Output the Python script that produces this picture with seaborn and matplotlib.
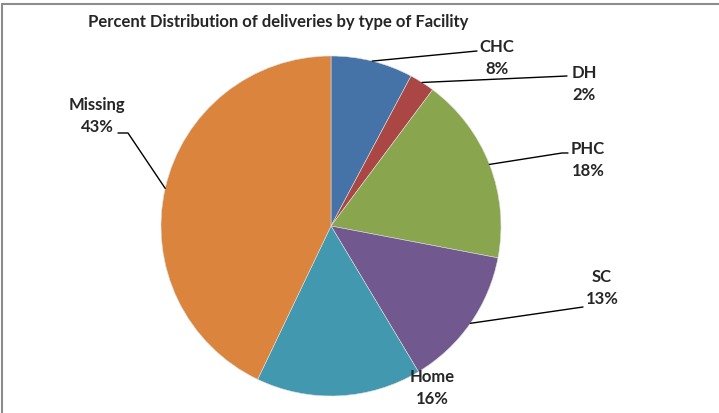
import numpy as np
import matplotlib
matplotlib.use("Agg")
import matplotlib.pyplot as plt
import seaborn as sns

# slice values (percent)
categories = ["CHC", "DH", "PHC", "SC", "Home", "Missing"]
values = [7.8, 2.4, 17.8, 13.4, 15.7, 42.9]
colors = ["#4572A7", "#AA4643", "#89A54E", "#71588F", "#4198AF", "#DB843D"]

W, H = 719, 413
CX, CY, R = 331, 226, 170  # pie centre / radius in pixels

# label layout in pixels: text centre, elbow point (None = no leader line)
label_pos = {
    "CHC": ((497, 58), [(477, 51)]),
    "DH": ((584, 84), [(567, 76)]),
    "PHC": ((588, 160), [(562, 153), (568, 153)]),
    "SC": ((602, 288), [(583, 307)]),
    "Home": ((432, 388), None),
    "Missing": ((97, 116), [(128, 133), (118, 133)]),
}

sns.set_theme(style="white")
plt.rcParams["font.family"] = ["Lato", "DejaVu Sans"]

fig = plt.figure(figsize=(W / 100, H / 100), dpi=100)
ax = fig.add_axes([(CX - R) / W, (H - CY - R) / H, 2 * R / W, 2 * R / H])

wedges, _ = ax.pie(values, colors=colors, startangle=90, counterclock=False,
                   radius=1, wedgeprops=dict(linewidth=0.4, edgecolor="#dddddd"))
ax.set_xlim(-1, 1)
ax.set_ylim(-1, 1)
ax.set_axis_off()


def to_data(px, py):
    return (px - CX) / R, (CY - py) / R


total = sum(values)
for w, name, v in zip(wedges, categories, values):
    (tx, ty), elbow = label_pos[name]
    x, y = to_data(tx, ty)
    ax.text(x, y, f"{name}\n{v / total * 100:.0f}%", ha="center", va="center",
            fontsize=12, fontweight="bold", linespacing=1.45, clip_on=False)
    if elbow:
        ang = np.deg2rad((w.theta1 + w.theta2) / 2)
        pts = [(np.cos(ang), np.sin(ang))] + [to_data(*p) for p in elbow]
        xs, ys = zip(*pts)
        ax.plot(xs, ys, color="black", linewidth=1, clip_on=False)

fig.text(88 / W, 1 - 22 / H, "Percent Distribution of deliveries by type of Facility",
         ha="left", va="center", fontsize=12, fontweight="bold")

# chart-area border (only top and left visible in the reference crop)
fig.add_artist(plt.Line2D([1.5 / W, 1], [1 - 3.5 / H, 1 - 3.5 / H],
                          transform=fig.transFigure, color="#8c8c8c", linewidth=1.5))
fig.add_artist(plt.Line2D([1.5 / W, 1.5 / W], [0, 1 - 3.5 / H],
                          transform=fig.transFigure, color="#8c8c8c", linewidth=1.5))

fig.savefig("out.png", dpi=100)
